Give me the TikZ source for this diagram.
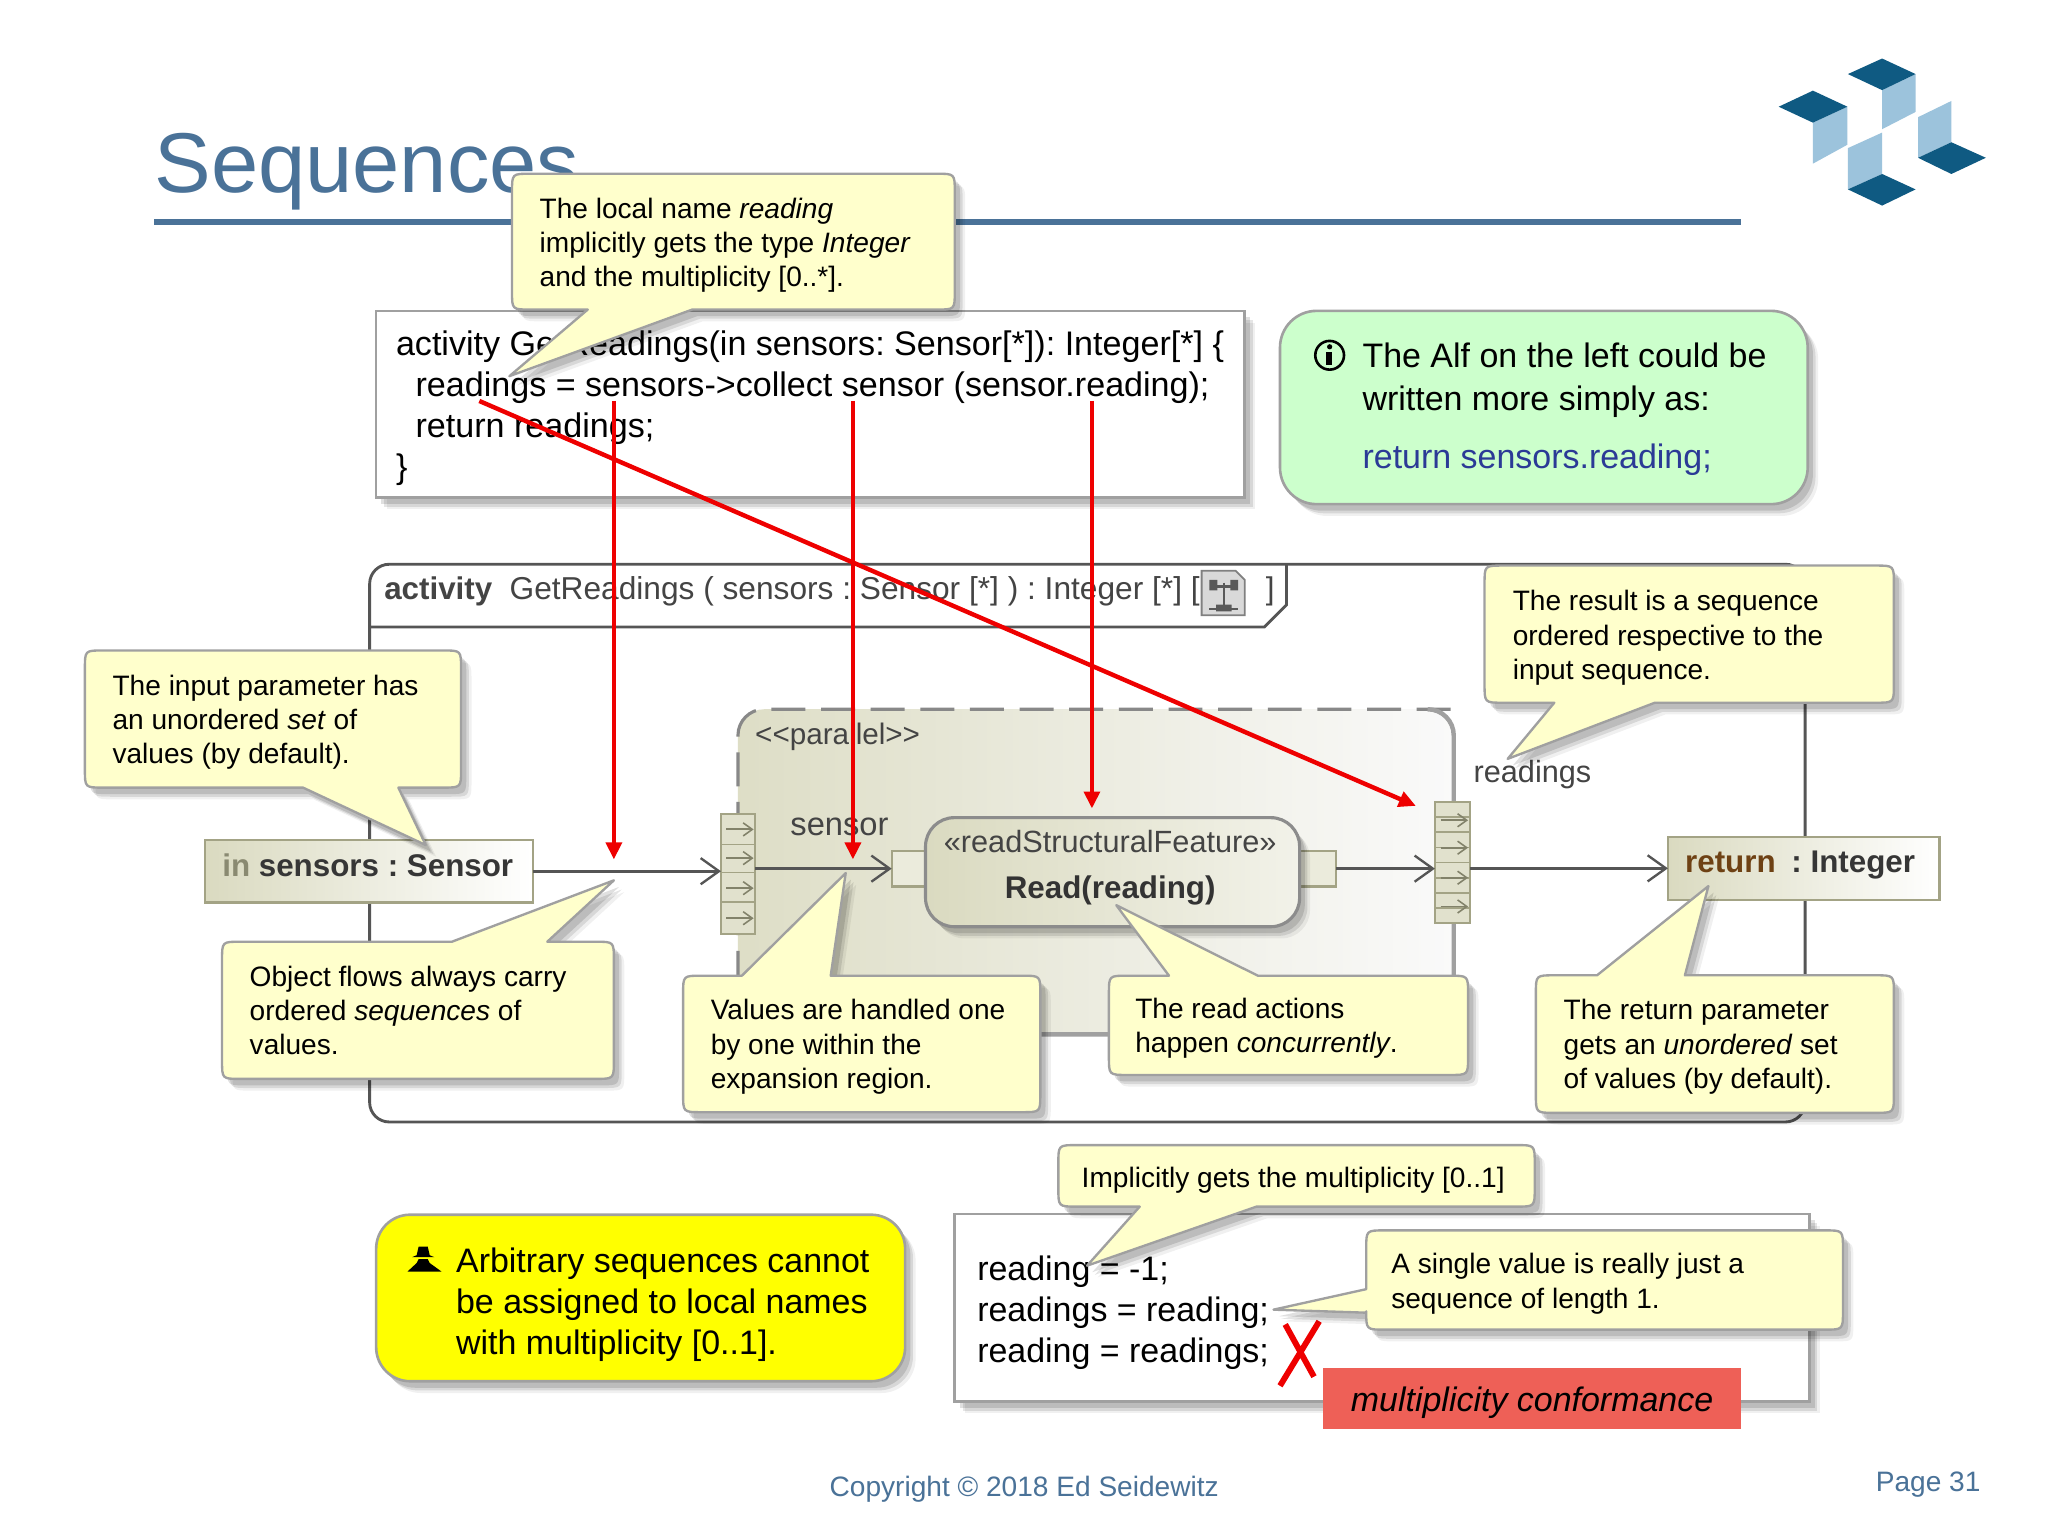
\documentclass[tikz,border=0pt]{standalone}
\usepackage{fontspec}
\setmainfont{Liberation Sans}
\usetikzlibrary{arrows.meta,shadows,calc}
\definecolor{titleblue}{HTML}{4A7298}
\definecolor{logodark}{HTML}{0F5A82}
\definecolor{logolight}{HTML}{9CC3DC}
\definecolor{notefill}{HTML}{FFFFCC}
\definecolor{notegreen}{HTML}{CCFFCC}
\definecolor{warnfill}{HTML}{FFFF00}
\definecolor{redline}{HTML}{EE0000}
\definecolor{edgegray}{HTML}{A0A0A0}
\definecolor{umlink}{HTML}{444444}
\definecolor{umlline}{HTML}{555555}
\definecolor{umlfill}{HTML}{DADAC0}
\definecolor{pinedge}{HTML}{A3A385}
\definecolor{codeblue}{HTML}{2B3A96}
\definecolor{errfill}{HTML}{EE6057}
\newcommand{\fsS}{\fontsize{21.5}{26.2}\selectfont}
\newcommand{\fsB}{\fontsize{26}{31.5}\selectfont}
\newcommand{\fsG}{\fontsize{26}{33}\selectfont}
\newcommand{\fsU}{\fontsize{24}{29}\selectfont}
\tikzset{
  softshadow/.style={drop shadow={shadow xshift=8pt,shadow yshift=-9pt,opacity=.06,fill=black},
                     drop shadow={shadow xshift=6pt,shadow yshift=-7pt,opacity=.10,fill=black},
                     drop shadow={shadow xshift=4pt,shadow yshift=-5pt,opacity=.12,fill=black}},
  box/.style={draw=edgegray,line width=2pt,softshadow},
  callout/.style={draw=edgegray,line width=1.8pt,fill=notefill,line join=round,softshadow},
  note/.style={anchor=north west,inner sep=0pt,align=left,font=\fsS,execute at begin node=\strut},
  big/.style={anchor=north west,inner sep=0pt,align=left,font=\fsB,execute at begin node=\strut},
  uml/.style={anchor=base west,inner sep=0pt,font=\fsU,text=umlink},
  umlc/.style={anchor=base,inner sep=0pt,font=\fsU,text=umlink},
  place/.style={anchor=north west,inner sep=0pt,outer sep=0pt},
  pin/.style={place,draw=pinedge,line width=1.6pt,fill=umlfill!80!white},
  flow/.style={draw=umlline,line width=2pt,-{Straight Barb[length=14pt,width=20pt,line width=1.8pt]}},
  pinmark/.style={draw=pinedge!80!black,line width=1.4pt,-{Straight Barb[length=7pt,width=10pt,line width=1.2pt]}},
  redflow/.style={draw=redline,line width=3.4pt,-{Triangle[length=13pt,width=12pt]}},
  logod/.style={fill=logodark,draw=none},
  logol/.style={fill=logolight,draw=none},
}
% rounded note body with a tail on the bottom, top or left edge
\newcommand{\CalloutDown}[8]{\path[callout] (#5,#4) -- (#1+14,#4) .. controls (#1,#4) .. (#1,#4-14) -- (#1,#2+14) .. controls (#1,#2) .. (#1+14,#2) -- (#3-14,#2) .. controls (#3,#2) .. (#3,#2+14) -- (#3,#4-14) .. controls (#3,#4) .. (#3-14,#4) -- (#6,#4) -- (#7,#8) -- cycle;}
\newcommand{\CalloutUp}[8]{\path[callout] (#5,#2) -- (#1+14,#2) .. controls (#1,#2) .. (#1,#2+14) -- (#1,#4-14) .. controls (#1,#4) .. (#1+14,#4) -- (#3-14,#4) .. controls (#3,#4) .. (#3,#4-14) -- (#3,#2+14) .. controls (#3,#2) .. (#3-14,#2) -- (#6,#2) -- (#7,#8) -- cycle;}
\newcommand{\CalloutLeft}[8]{\path[callout] (#1,#5) -- (#1,#2+14) .. controls (#1,#2) .. (#1+14,#2) -- (#3-14,#2) .. controls (#3,#2) .. (#3,#2+14) -- (#3,#4-14) .. controls (#3,#4) .. (#3-14,#4) -- (#1+14,#4) .. controls (#1,#4) .. (#1,#4-14) -- (#1,#6) -- (#7,#8) -- cycle;}
\begin{document}
\frenchspacing
\begin{tikzpicture}[x=1pt,y=-1pt]
\useasboundingbox[fill=white] (0,0) rectangle (1568,1176);

% title and logo
\node[anchor=base west,inner sep=0pt,font=\fontsize{65}{70}\selectfont,text=titleblue] (title) at (118,147) {Sequences};
\fill[titleblue] (118,167.5) rectangle (1333,172.5);
\path[logol] (1441,69) -- (1466.6,56.7) -- (1466.6,85.7) -- (1441,98.9) -- cycle;
\path[logol] (1388,93.9) -- (1414.4,81.7) -- (1414.4,110.8) -- (1388,125.3) -- cycle;
\path[logol] (1414.8,113.4) -- (1441,101.5) -- (1441,133.2) -- (1414.8,145) -- cycle;
\path[logol] (1468.5,89.7) -- (1494,77.3) -- (1494,108.9) -- (1468.5,120.8) -- cycle;
\path[logod] (1414.8,56.7) -- (1441,44.8) -- (1466.6,56.7) -- (1441,69) -- cycle;
\path[logod] (1361.8,81.7) -- (1388,69.4) -- (1414.4,81.7) -- (1388,93.9) -- cycle;
\path[logod] (1468.5,120.8) -- (1494,108.9) -- (1520.4,120.8) -- (1494,133.2) -- cycle;
\path[logod] (1414.8,145) -- (1441,133.2) -- (1466.6,145) -- (1441,157.4) -- cycle;

% upper code box
\path[box,fill=white] (288,238) rectangle (953,381);
\node[big,font=\fontsize{26.1}{31.5}\selectfont] (code) at (303,253) {activity GetReadings(in sensors: Sensor[*]): Integer[*] \{\\
\hspace*{15pt}readings = sensors->collect sensor (sensor.reading);\\
\hspace*{15pt}return readings;\\
\}};

% green note
\path[box,fill=notegreen,rounded corners=28pt] (980,238) rectangle (1384,386);
\draw[black,line width=2pt] (1018,272) circle[radius=11];
\fill[black] (1018,265.5) circle[radius=2];
\fill[black] (1015.5,269.5) rectangle (1020,279.5);
\node[big,font=\fsG] (alf) at (1043,262.5) {The Alf on the left could be\\written more simply as:};
\node[anchor=base west,inner sep=0pt,font=\fsB,text=codeblue] (alfcode) at (1043,359) {return sensors.reading;};

% activity frame
\draw[umlline,line width=2.2pt,rounded corners=15pt] (283,432) rectangle (1382,859);
\draw[umlline,line width=2.2pt] (283,480) -- (968,480) -- (985,463) -- (985,432);
\node[uml,font=\bfseries\fsU] (acthead) at (294,459) {activity};
\node[uml,font=\fontsize{24.25}{29}\selectfont] (actsig) at (390,459) {GetReadings ( sensors : Sensor [*] ) : Integer [*] [};
\node[uml] (actend) at (969,459) {]};
\fill[black!15,draw=black!50,line width=1.4pt] (920,437) -- (946,437) -- (953,444) -- (953,471) -- (920,471) -- cycle;
\draw[black!65,line width=1.6pt] (937,446) -- (937,463) (929,449) -- (945,449) (926,466) -- (948,466);
\fill[black!65] (926,444) rectangle (932,452) (942,444) rectangle (948,452) (931,463) rectangle (943,468);

% expansion region
\path[rounded corners=20pt,left color=umlfill!90!white,right color=black!2] (565,543) rectangle (1113,792);
\draw[edgegray!85!black,line width=2.4pt,dash pattern=on 26pt off 12pt,rounded corners=20pt] (565,792) -- (565,543) -- (1113,543);
\draw[edgegray,line width=3.4pt,rounded corners=20pt] (1093,543) -- (1113,543) -- (1113,792) -- (565,792);
\node[uml,font=\fontsize{22.7}{27}\selectfont] (parallel) at (578,570) {{<}{<}parallel{>}{>}};
\node[uml,font=\fontsize{25}{29}\selectfont] (sensorlabel) at (605,640) {sensor};

% action and its pins
\node[place,draw=pinedge,line width=1.6pt,fill=umlfill!55!white,minimum width=26pt,minimum height=27.3pt] (actI) at (682.7,651.4) {};
\node[place,draw=pinedge,line width=1.6pt,fill=umlfill!55!white,minimum width=28pt,minimum height=27.3pt] (actO) at (995,651.4) {};
\node[place,draw=black!45,line width=2.4pt,rounded corners=22pt,minimum width=286.4pt,minimum height=83.5pt,left color=umlfill,right color=umlfill!35!white,softshadow] (action) at (708.6,626) {};
\node[umlc,font=\fontsize{23.5}{28}\selectfont] (actst) at (850,653) {«readStructuralFeature»};
\node[umlc,font=\bfseries\fsU,text=black!80] (actname) at (850,688) {Read(reading)};

% expansion pins
\node[pin,minimum width=26pt,minimum height=92pt] (pinL) at (552,623) {};
\foreach \yy in {646.5,668,690.4} \draw[pinedge,line width=1.4pt] (552,\yy) -- (578,\yy);
\foreach \yy in {635,657,680,703} \draw[pinmark] (556,\yy) -- (577,\yy);
\node[pin,minimum width=26.7pt,minimum height=92.3pt] (pinR) at (1098.6,614.3) {};
\foreach \yy in {625.8,637.3,648.9,660.4,672,683.5,695} \draw[pinedge,line width=1.4pt] (1098.6,\yy) -- (1125.3,\yy);
\foreach \yy in {628,649,672,694} \draw[pinmark] (1103,\yy) -- (1124,\yy);
\node[uml,font=\fontsize{23.5}{28}\selectfont] (readingslabel) at (1128,599) {readings};

% parameters
\node[place,draw=pinedge,line width=1.8pt,left color=umlfill,right color=white,minimum width=251pt,minimum height=48pt] (inP) at (157,643) {};
\node[uml,font=\bfseries\fsU] (inPt) at (170,671) {\textcolor{pinedge!85!black}{in}\ \textcolor{umlink!80!black}{sensors : Sensor}};
\node[place,draw=pinedge,line width=1.8pt,left color=umlfill,right color=white,minimum width=208pt,minimum height=48.4pt] (retP) at (1277,640.6) {};
\node[uml,font=\bfseries\fsU] (retPt) at (1290,668) {\textcolor{black!50!orange!70!umlink}{return}\textcolor{umlink!80!black}{\hspace{12pt}: Integer}};

% object flows
\draw[flow] (inP.east) -- (inP.east -| pinL.west);
\draw[flow] (actI.west -| pinL.east) -- (actI.west);
\draw[flow] (actO.east) -- (actO.east -| pinR.west);
\draw[flow] (retP.west -| pinR.east) -- (retP.west);

% red pointers
\coordinate (r1a) at (470,307); \coordinate (r1b) at (470,658);
\coordinate (r2a) at (653,307); \coordinate (r2b) at (653,658);
\coordinate (r3a) at (836,307); \coordinate (r3b) at (836,619);
\coordinate (r4a) at (367,307); \coordinate (r4b) at (1084,617);
\draw[redflow] (r1a) -- (r1b);
\draw[redflow] (r2a) -- (r2b);
\draw[redflow] (r3a) -- (r3b);
\draw[redflow] (r4a) -- (r4b);

% callouts over the activity
\CalloutDown{392}{133}{731}{237}{450}{530}{390}{288}
\node[note] (n1) at (413,151.5) {The local name \textit{reading}\\implicitly gets the type \textit{Integer}\\and the multiplicity [0..*].};
\CalloutDown{65}{498}{353}{603}{232}{305}{326}{647}
\node[note] (n2) at (86,516.5) {The input parameter has\\an unordered \textit{set} of\\values (by default).};
\CalloutUp{170}{721}{470}{826}{346}{419}{470}{674}
\node[note] (n3) at (191,739.5) {Object flows always carry\\ordered \textit{sequences} of\\values.};
\CalloutUp{523}{747}{796.5}{851.5}{568}{636}{647.5}{668.4}
\node[note] (n4) at (544,765) {Values are handled one\\by one within the\\expansion region.};
\CalloutUp{849}{747}{1124}{823}{895}{963}{854.6}{693}
\node[note] (n5) at (869,764) {The read actions\\happen \textit{concurrently}.};
\CalloutUp{1175.9}{746.7}{1450}{852}{1222.7}{1290}{1308}{678.4}
\node[note] (n6) at (1197,765) {The return parameter\\gets an \textit{unordered} set\\of values (by default).};
\CalloutDown{1136.6}{433}{1450}{538}{1190}{1267}{1154.3}{581}
\node[note] (n7) at (1158,452) {The result is a sequence\\ordered respective to the\\input sequence.};

% yellow warning
\path[box,fill=warnfill,rounded corners=26pt] (288,930) rectangle (693,1057.5);
\fill[black] (320.5,954.5) -- (327.5,954.5) -- (329,961) -- (332.5,962.5) -- (315.5,962.5) -- (319,961) -- cycle;
\fill[black] (320.5,964) -- (327.5,964) -- (329,967) -- (338,973.5) -- (312,973.5) -- (319,967) -- cycle;
\node[big] (warn) at (349,955) {Arbitrary sequences cannot\\be assigned to local names\\with multiplicity [0..1].};

% lower code box
\path[box,fill=white] (731,929.4) rectangle (1385.4,1073);
\node[big] (code2) at (748,961) {reading = -1;\\readings = reading;\\reading = readings;};
\node[place,fill=errfill,minimum width=319.6pt,minimum height=47.3pt] (err) at (1013,1047) {};
\node[anchor=base,inner sep=0pt,font=\itshape\fsB] (errt) at (1173,1081) {multiplicity conformance};
\draw[redline,line width=4.5pt] (984,1014) -- (1006,1054) (1010,1011.6) -- (980,1061);

\CalloutDown{810.3}{876.7}{1175}{923.8}{872.6}{962}{832.3}{969}
\node[note] (n8) at (828,890.5) {Implicitly gets the multiplicity [0..1]};
\CalloutLeft{1046}{942}{1411}{1018}{987}{1005}{975}{1002.7}
\node[note] (n9) at (1065,959.5) {A single value is really just a\\sequence of length 1.};

% footer
\node[anchor=base west,inner sep=0pt,font=\fsS,text=titleblue] (copy) at (635,1146) {Copyright © 2018 Ed Seidewitz};
\node[anchor=base west,inner sep=0pt,font=\fsS,text=titleblue] (page) at (1436,1142) {Page 31};
\end{tikzpicture}
\end{document}
